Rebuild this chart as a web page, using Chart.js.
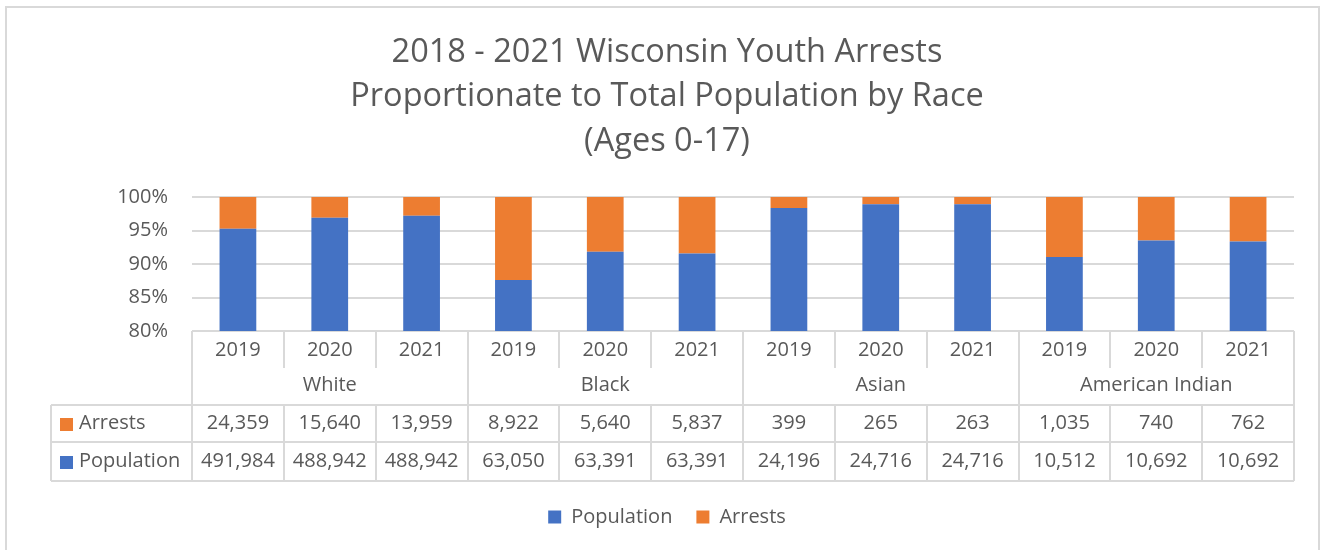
<!DOCTYPE html>
<html>
<head>
<meta charset="utf-8">
<script src="https://cdn.jsdelivr.net/npm/chart.js@4"></script>
<style>
  html, body { margin: 0; padding: 0; background: #fff; }
  #wrap { width: 1324px; height: 550px; }
</style>
</head>
<body>
<div id="wrap"><canvas id="chart" width="1324" height="550"></canvas></div>
<script>
const races = ['White', 'Black', 'Asian', 'American Indian'];
const years = ['2019', '2020', '2021'];
const arrests = [24359, 15640, 13959, 8922, 5640, 5837, 399, 265, 263, 1035, 740, 762];
const population = [491984, 488942, 488942, 63050, 63391, 63391, 24196, 24716, 24716, 10512, 10692, 10692];

const textColor = '#595959';
const lineColor = '#D9D9D9';
const font = '"Open Sans"';

// one label per bar, years repeated for each race
const labels = [];
races.forEach(() => years.forEach(y => labels.push(y)));

// 100% stacked: share of each series in the column total
const popShare = population.map((p, i) => p / (p + arrests[i]));
const arrShare = arrests.map((a, i) => a / (population[i] + a));

const fmt = n => n.toLocaleString('en-US');

// group row + data table drawn under the axis
const tablePlugin = {
    id: 'dataTable',
    afterDraw(chart) {
        const ctx = chart.ctx;
        const area = chart.chartArea;
        const colW = (area.right - area.left) / labels.length;
        const yTop = area.bottom;
        const yYearEnd = 368;
        const yRow1 = 405, yRow2 = 442, yRow3 = 481;
        const tableLeft = 51;

        ctx.save();
        // outer frame
        ctx.strokeStyle = lineColor;
        ctx.lineWidth = 2;
        ctx.strokeRect(6, 7, 1313, 600);

        ctx.beginPath();
        for (let i = 0; i <= labels.length; i++) {
            const x = Math.round(area.left + i * colW);
            if (i % years.length === 0) {
                ctx.moveTo(x, yTop); ctx.lineTo(x, yRow3);
            } else {
                ctx.moveTo(x, yTop); ctx.lineTo(x, yYearEnd);
                ctx.moveTo(x, yRow1); ctx.lineTo(x, yRow3);
            }
        }
        ctx.moveTo(tableLeft, yRow1); ctx.lineTo(tableLeft, yRow3);
        [yRow1, yRow2, yRow3].forEach(y => {
            ctx.moveTo(tableLeft, y); ctx.lineTo(area.right, y);
        });
        ctx.stroke();

        ctx.fillStyle = textColor;
        ctx.font = '20px ' + font;
        ctx.textBaseline = 'middle';
        ctx.textAlign = 'center';

        // race names
        races.forEach((r, g) => {
            const x = area.left + (g * years.length + years.length / 2) * colW;
            ctx.fillText(r, x, 385);
        });

        // values
        const rows = [
            { name: 'Arrests', data: arrests, color: '#ED7D31', y: (yRow1 + yRow2) / 2 },
            { name: 'Population', data: population, color: '#4472C4', y: (yRow2 + yRow3) / 2 }
        ];
        rows.forEach(row => {
            ctx.textAlign = 'center';
            row.data.forEach((v, i) => {
                ctx.fillText(fmt(v), area.left + (i + 0.5) * colW, row.y);
            });
            ctx.fillStyle = row.color;
            ctx.fillRect(60, Math.round(row.y) - 6, 13, 13);
            ctx.fillStyle = textColor;
            ctx.textAlign = 'left';
            ctx.fillText(row.name, 79, row.y);
        });
        ctx.restore();
    }
};

const ctx = document.getElementById('chart').getContext('2d');
const chart = new Chart(ctx, {
    type: 'bar',
    data: {
        labels: labels,
        datasets: [
            {
                label: 'Population',
                data: popShare,
                backgroundColor: '#4472C4',
                barPercentage: 0.4,
                categoryPercentage: 1
            },
            {
                label: 'Arrests',
                data: arrShare,
                backgroundColor: '#ED7D31',
                barPercentage: 0.4,
                categoryPercentage: 1
            }
        ]
    },
    options: {
        responsive: false,
        animation: false,
        layout: {
            padding: { left: 40, right: 30, top: 0, bottom: 13 }
        },
        scales: {
            x: {
                stacked: true,
                grid: { display: false },
                border: { display: false },
                ticks: {
                    color: textColor,
                    font: { family: font, size: 20 },
                    padding: -1,
                    autoSkip: false,
                    maxRotation: 0
                },
                afterFit: scale => { scale.height = 152; }
            },
            y: {
                stacked: true,
                min: 0.8,
                max: 1,
                grid: { color: lineColor, lineWidth: 2, drawTicks: false },
                border: { display: false },
                ticks: {
                    stepSize: 0.05,
                    color: textColor,
                    font: { family: font, size: 20 },
                    padding: 24,
                    callback: v => Math.round(v * 100) + '%'
                },
                afterFit: scale => { scale.width = 152; }
            }
        },
        plugins: {
            title: {
                display: true,
                text: ['2018 - 2021 Wisconsin Youth Arrests', 'Proportionate to Total Population by Race', '(Ages 0-17)'],
                color: textColor,
                font: { family: font, size: 32.5, weight: 'normal', lineHeight: 1.37 },
                padding: { top: 30, bottom: 33.5 }
            },
            legend: {
                position: 'bottom',
                labels: {
                    color: textColor,
                    font: { family: font, size: 20 },
                    boxWidth: 13,
                    boxHeight: 13,
                    padding: 24
                }
            },
            tooltip: { enabled: false }
        }
    },
    plugins: [tablePlugin]
});
</script>
</body>
</html>
